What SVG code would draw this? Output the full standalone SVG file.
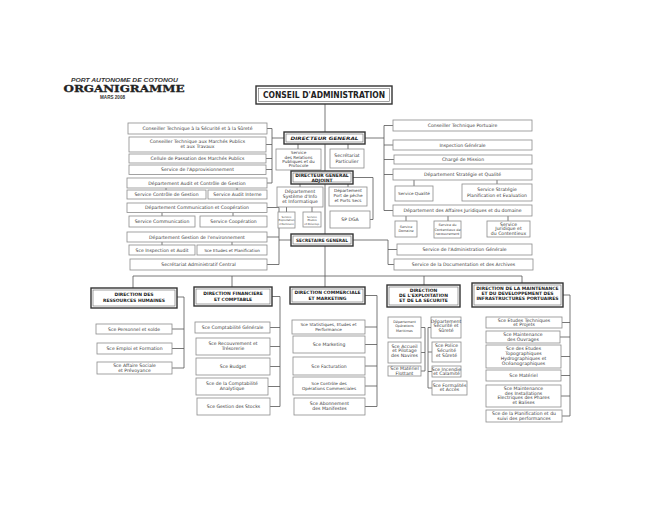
<svg xmlns="http://www.w3.org/2000/svg" width="662" height="512" viewBox="0 0 662 512">
<style>
.b{fill:#fff;stroke:#8c8c8c;stroke-width:0.8}
.o{fill:#fff;stroke:#333;stroke-width:1.4}
.i{fill:none;stroke:#666;stroke-width:0.6}
.t{font-family:"DejaVu Sans",sans-serif;font-size:4.6px;fill:#3a3a3a;text-anchor:middle}
.s{font-size:4.2px}
.x{font-size:3.4px}
.y{font-size:2.7px}
.h{font-family:"DejaVu Sans",sans-serif;font-weight:bold;font-size:4.5px;fill:#222;text-anchor:middle}
.c path{fill:none;stroke:#555;stroke-width:0.8}
</style>
<rect width="662" height="512" fill="#fff"/>
<g id="title">
<text x="124.5" y="81.8" font-family="Liberation Sans,sans-serif" font-weight="bold" font-style="italic" font-size="6" fill="#333" text-anchor="middle" textLength="107" lengthAdjust="spacingAndGlyphs">PORT AUTONOME DE COTONOU</text>
<text x="124" y="92.4" font-family="DejaVu Serif,serif" font-weight="bold" font-size="9.6" fill="#222" stroke="#222" stroke-width="0.3" text-anchor="middle" textLength="121" lengthAdjust="spacingAndGlyphs">ORGANIGRAMME</text>
<text x="112.5" y="99" font-family="Liberation Sans,sans-serif" font-weight="bold" font-size="5.4" fill="#333" text-anchor="middle" textLength="25" lengthAdjust="spacingAndGlyphs">MARS 2008</text>
</g>
<g class="c" id="connectors">
<path d="M325,104V132M325,144V171M325,184V234M325,246V287M133,276H522M133,276V288M232,276V287M424,276V285M522,276V283"/>
<path d="M284,138H272M272,128.5V183M267,128.5H272M266,144.5H272M266,158.5H272M266,169.5H272M267,183H272"/>
<path d="M365,138H384M384,125.5V210.5M384,125.5H393M384,145H393M384,159.5H394M384,174.5H393M384,210.5H393"/>
<path d="M298,144V149M348,144V149M166,188V190M237,188V190M162,212.5V216M233,212.5V216M162,242V245M232,242V245"/>
<path d="M291,240H279M279,207.5V264.5M267,207.5H279M267,237H279M267,264.5H279"/>
<path d="M353,240H388V264.5M388,249.5H397M388,264.5H394"/>
<path d="M414,180V186M497,180V184M406,216V221M448,216V221M508,216V221"/>
<path d="M300,184V187M348,184V187M353,177.5H373V219.5H370M286.5,207V212M312,207V212"/>
<path d="M177,297H184V368M172,329H184M172,348.5H184M172,368H184"/>
<path d="M272,296.5H280V406.5M270,327.5H280M270,346.5H280M270,366.5H280M268,386.5H280M270,406.5H280"/>
<path d="M365,295.5H377V406.5M365,327H377M365,344.5H377M365,366H377M365,386H377M365,406.5H377"/>
<path d="M425,327.5V371M421,327.5H425M421,352.5H425M421,371H425M428,327.5V388M428,327.5H431M428,352H432M428,371.5H432M428,388H432"/>
<path d="M563,295H570V416M562,322.5H570M560,337H570M561,356.5H570M561,375.5H570M561,396H570M562,416H570"/>
</g>
<g id="ca"><rect class="o" x="256" y="86" width="136" height="18"/><rect class="i" x="258.5" y="88.5" width="131" height="13"/><text x="324" y="98" font-family="DejaVu Sans,sans-serif" font-weight="bold" font-size="8" fill="#222" text-anchor="middle" textLength="122" lengthAdjust="spacingAndGlyphs">CONSEIL D'ADMINISTRATION</text></g>
<g id="dg"><rect class="o" x="284" y="132" width="81" height="12"/><rect class="i" x="286" y="134" width="77" height="8"/><text class="h" x="324.5" y="140.3" font-size="5.6" font-style="italic" textLength="68" lengthAdjust="spacingAndGlyphs">DIRECTEUR GENERAL</text></g>
<g id="relations"><rect class="b" x="276" y="149" width="45" height="21"/><text class="t s" x="298.5" y="154.2">Service<tspan x="298.5" dy="4.4">des Relations</tspan><tspan x="298.5" dy="4.4">Publiques et du</tspan><tspan x="298.5" dy="4.4">Protocole</tspan></text></g>
<g id="secretariat"><rect class="b" x="330" y="149" width="34" height="19"/><text class="t" x="347" y="157">Secrétariat<tspan x="347" dy="5.5">Particulier</tspan></text></g>
<g id="dga"><rect class="o" x="291" y="171" width="62" height="13"/><rect class="i" x="293" y="173" width="58" height="9"/><text class="h" x="322" y="177.2" font-size="4.2">DIRECTEUR GENERAL<tspan x="322" dy="4.8">ADJOINT</tspan></text></g>
<g id="dept-si"><rect class="b" x="277" y="187" width="46" height="20"/><text class="t" x="300" y="192.6">Département<tspan x="300" dy="5">Système d'Info</tspan><tspan x="300" dy="5">et Informatique</tspan></text></g>
<g id="dept-port"><rect class="b" x="329" y="187" width="38" height="19"/><text class="t s" x="348" y="192.4">Département<tspan x="348" dy="5">Port de pêche</tspan><tspan x="348" dy="5">et Ports Secs</tspan></text></g>
<g id="svc-exp"><rect class="b" x="278" y="212" width="17" height="16"/><text class="t y" x="286.5" y="217.5">Service<tspan x="286.5" dy="3.5">Exploitation</tspan><tspan x="286.5" dy="3.5" textLength="15" lengthAdjust="spacingAndGlyphs">et Maintenance</tspan></text></g>
<g id="svc-etu"><rect class="b" x="303" y="212" width="18" height="15" /><text class="t y" x="312" y="217.5">Service<tspan x="312" dy="3.5">Etudes</tspan><tspan x="312" dy="3.5">et Dévelop.</tspan></text></g>
<g id="sp-dga"><rect class="b" x="330" y="211" width="40" height="17"/><text class="t" x="350" y="221.2" font-size="5">SP DGA</text></g>
<g id="sg"><rect class="o" x="291" y="234" width="62" height="12"/><rect class="i" x="293" y="236" width="58" height="8"/><text class="h" x="322" y="241.6" font-size="4.5" textLength="52" lengthAdjust="spacingAndGlyphs">SECRETAIRE GENERAL</text></g>
<g id="l1"><rect class="b" x="128" y="123" width="139" height="11"/><text class="t" x="197.5" y="130.1">Conseiller Technique à la Sécurité et à la Sûreté</text></g>
<g id="l2"><rect class="b" x="129" y="137" width="137" height="15"/><text class="t" x="197.5" y="143.2">Conseiller Technique aux Marchés Publics<tspan x="197.5" dy="5.2">et aux Travaux</tspan></text></g>
<g id="l3"><rect class="b" x="129" y="154" width="137" height="9"/><text class="t" x="197.5" y="160.1">Cellule de Passation des Marchés Publics</text></g>
<g id="l4"><rect class="b" x="129" y="165" width="137" height="9.5"/><text class="t" x="197.5" y="171.3">Service de l'Approvisionnement</text></g>
<g id="l5"><rect class="b" x="127" y="178" width="140" height="10"/><text class="t" x="197" y="184.6">Département Audit et Contrôle de Gestion</text></g>
<g id="l6a"><rect class="b" x="127" y="190" width="79" height="9"/><text class="t" x="166.5" y="196.1">Service Contrôle de Gestion</text></g>
<g id="l6b"><rect class="b" x="208" y="190" width="59" height="9"/><text class="t" x="237.5" y="196.1">Service Audit Interne</text></g>
<g id="l7"><rect class="b" x="127" y="203" width="140" height="9.5"/><text class="t" x="197" y="209.3">Département Communication et Coopération</text></g>
<g id="l8a"><rect class="b" x="129" y="216" width="66" height="11"/><text class="t" x="162" y="223.1">Service Communication</text></g>
<g id="l8b"><rect class="b" x="200" y="216" width="67" height="11"/><text class="t" x="233.5" y="223.1">Service Coopération</text></g>
<g id="l9"><rect class="b" x="127" y="232" width="140" height="10"/><text class="t" x="197" y="238.6">Département Gestion de l'environnement</text></g>
<g id="l10a"><rect class="b" x="129" y="245" width="66" height="10"/><text class="t" x="162" y="251.6">Sce Inspection et Audit</text></g>
<g id="l10b"><rect class="b" x="197" y="245" width="70" height="10"/><text class="t s" x="232" y="251.5">Sce Etudes et Planification</text></g>
<g id="l11"><rect class="b" x="130" y="259" width="137" height="11"/><text class="t" x="198.5" y="266.1">Secrétariat Administratif Central</text></g>
<g id="r1"><rect class="b" x="393" y="120" width="139" height="11"/><text class="t" x="462.5" y="127.1">Conseiller Technique Portuaire</text></g>
<g id="r2"><rect class="b" x="393" y="140" width="139" height="10"/><text class="t" x="462.5" y="146.6">Inspection Générale</text></g>
<g id="r3"><rect class="b" x="394" y="155" width="138" height="9"/><text class="t" x="463" y="161.1">Chargé de Mission</text></g>
<g id="r4"><rect class="b" x="393" y="169" width="139" height="11"/><text class="t" x="462.5" y="176.1">Département Stratégie et Qualité</text></g>
<g id="r5a"><rect class="b" x="395" y="186" width="38" height="15"/><text class="t s" x="414" y="195">Service Qualité</text></g>
<g id="r5b"><rect class="b" x="462" y="184" width="70" height="17"/><text class="t" x="497" y="191.2">Service Stratégie<tspan x="497" dy="5.6">Planification et Evaluation</tspan></text></g>
<g id="r6"><rect class="b" x="393" y="205" width="139" height="11"/><text class="t" x="462.5" y="212.1">Département des Affaires Juridiques et du domaine</text></g>
<g id="r7a"><rect class="b" x="395" y="221" width="22" height="16"/><text class="t x" x="406" y="227.8">Service<tspan x="406" dy="4.6">Domaine</tspan></text></g>
<g id="r7b"><rect class="b" x="434" y="221" width="27" height="17"/><text class="t x" x="447.5" y="226.2">Service du<tspan x="447.5" dy="4.4">Contentieux de</tspan><tspan x="447.5" dy="4.4">recouvrement</tspan></text></g>
<g id="r7c"><rect class="b" x="487" y="221" width="43" height="16"/><text class="t" x="508.5" y="226" font-size="3.9">Service<tspan x="508.5" dy="4.4">Juridique et</tspan><tspan x="508.5" dy="4.4">du Contentieux</tspan></text></g>
<g id="r8"><rect class="b" x="397" y="244" width="135" height="11"/><text class="t" x="464.5" y="251.1">Service de l'Administration Générale</text></g>
<g id="r9"><rect class="b" x="394" y="259" width="139" height="11"/><text class="t" x="463.5" y="266.1">Service de la Documentation et des Archives</text></g>
<g id="drh"><rect class="o" x="91" y="288" width="86" height="20"/><rect class="i" x="93" y="290" width="82" height="16"/><text class="h" x="134" y="296">DIRECTION DES<tspan x="134" dy="5.8">RESSOURCES HUMAINES</tspan></text></g>
<g id="dfc"><rect class="o" x="194" y="287" width="78" height="19"/><rect class="i" x="196" y="289" width="74" height="15"/><text class="h" x="233" y="295" font-size="4.3">DIRECTION FINANCIERE<tspan x="233" dy="5.6">ET COMPTABLE</tspan></text></g>
<g id="dcm"><rect class="o" x="290" y="287" width="75" height="17"/><rect class="i" x="292" y="289" width="71" height="13"/><text class="h" x="327.5" y="294.3" font-size="4.3">DIRECTION COMMERCIALE<tspan x="327.5" dy="5.4">ET MARKETING</tspan></text></g>
<g id="dese"><rect class="o" x="387" y="285" width="73" height="22"/><rect class="i" x="389" y="287" width="69" height="18"/><text class="h" x="423.5" y="291.5" font-size="4.2">DIRECTION<tspan x="423.5" dy="5">DE L'EXPLOITATION</tspan><tspan x="423.5" dy="5">ET DE LA SECURITE</tspan></text></g>
<g id="dmdip"><rect class="o" x="472" y="283" width="91" height="24"/><rect class="i" x="474" y="285" width="87" height="20"/><text class="h" x="517.5" y="290" font-size="3.9">DIRECTION DE LA MAINTENANCE<tspan x="517.5" dy="4.9">ET DU DEVELOPPEMENT DES</tspan><tspan x="517.5" dy="4.9">INFRASTRUCTURES PORTUAIRES</tspan></text></g>
<g id="drh1"><rect class="b" x="96" y="324" width="76" height="10"/><text class="t" x="134" y="330.6">Sce Personnel et solde</text></g>
<g id="drh2"><rect class="b" x="97" y="343" width="75" height="11"/><text class="t" x="134.5" y="350.1">Sce Emploi et Formation</text></g>
<g id="drh3"><rect class="b" x="97" y="362" width="75" height="12"/><text class="t" x="134.5" y="367.4">Sce Affaire Sociale<tspan x="134.5" dy="4.6">et Prévoyance</tspan></text></g>
<g id="dfc1"><rect class="b" x="195" y="322" width="75" height="11"/><text class="t" x="232.5" y="329.1">Sce Comptabilité Générale</text></g>
<g id="dfc2"><rect class="b" x="196" y="338" width="74" height="17"/><text class="t" x="233" y="344.8">Sce Recouvrement et<tspan x="233" dy="5.2">Trésorerie</tspan></text></g>
<g id="dfc3"><rect class="b" x="196" y="358" width="74" height="17"/><text class="t" x="233" y="368.1">Sce Budget</text></g>
<g id="dfc4"><rect class="b" x="196" y="378" width="72" height="17"/><text class="t" x="232" y="384.8">Sce de la Comptabilité<tspan x="232" dy="5.2">Analytique</tspan></text></g>
<g id="dfc5"><rect class="b" x="197" y="398" width="73" height="17"/><text class="t" x="233.5" y="408.1">Sce Gestion des Stocks</text></g>
<g id="dcm1"><rect class="b" x="292" y="320" width="73" height="14"/><text class="t s" x="328.5" y="325.8">Sce Statistiques, Etudes et<tspan x="328.5" dy="4.8">Performance</tspan></text></g>
<g id="dcm2"><rect class="b" x="293" y="336" width="72" height="17"/><text class="t" x="329" y="346.1">Sce Marketing</text></g>
<g id="dcm3"><rect class="b" x="293" y="357" width="72" height="18"/><text class="t" x="329" y="367.6">Sce Facturation</text></g>
<g id="dcm4"><rect class="b" x="293" y="377" width="72" height="18"/><text class="t s" x="329" y="384.6">Sce Contrôle des<tspan x="329" dy="5">Opérations Commerciales</tspan></text></g>
<g id="dcm5"><rect class="b" x="294" y="398" width="71" height="17"/><text class="t" x="329.5" y="404.8">Sce Abonnement<tspan x="329.5" dy="5.2">des Manifestes</tspan></text></g>
<g id="dese1"><rect class="b" x="388" y="317" width="33" height="21"/><text class="t x" x="404.5" y="322.6" font-size="3.9">Département<tspan x="404.5" dy="4.8">Opérations</tspan><tspan x="404.5" dy="4.8">Maritimes</tspan></text></g>
<g id="dese2"><rect class="b" x="388" y="342" width="33" height="21"/><text class="t" x="404.5" y="347.6" font-size="3.9">Sce Accueil<tspan x="404.5" dy="4.8">et Pilotage</tspan><tspan x="404.5" dy="4.8">des Navires</tspan></text></g>
<g id="dese3"><rect class="b" x="388" y="366" width="33" height="10"/><text class="t" x="404.5" y="370.3" font-size="3.9">Sce Matériel<tspan x="404.5" dy="4.2">Flottant</tspan></text></g>
<g id="dese4"><rect class="b" x="431" y="317" width="30" height="21"/><text class="t" x="446" y="322.6" font-size="3.9">Département<tspan x="446" dy="4.8">Sécurité et</tspan><tspan x="446" dy="4.8">Sûreté</tspan></text></g>
<g id="dese5"><rect class="b" x="432" y="342" width="29" height="20"/><text class="t" x="446.5" y="347.3" font-size="3.9">Sce Police<tspan x="446.5" dy="4.6">Sécurité</tspan><tspan x="446.5" dy="4.6">et Sûreté</tspan></text></g>
<g id="dese6"><rect class="b" x="432" y="366" width="29" height="11"/><text class="t" x="446.5" y="370.7" font-size="3.9">Sce Incendie<tspan x="446.5" dy="4.4">et Calamité</tspan></text></g>
<g id="dese7"><rect class="b" x="432" y="381" width="35" height="14"/><text class="t" x="449.5" y="386.8" font-size="3.9">Sce Formalités<tspan x="449.5" dy="4.6">et Accès</tspan></text></g>
<g id="dm1"><rect class="b" x="486" y="317" width="76" height="11"/><text class="t" x="524" y="321.6" font-size="4.3">Sce Etudes Techniques<tspan x="524" dy="4.6">et Projets</tspan></text></g>
<g id="dm2"><rect class="b" x="486" y="331" width="74" height="12"/><text class="t" x="523" y="335.9" font-size="4.3">Sce Maintenance<tspan x="523" dy="4.6">des Ouvrages</tspan></text></g>
<g id="dm3"><rect class="b" x="486" y="345" width="75" height="23"/><text class="t" x="523.5" y="350.2" font-size="4.2">Sce des Etudes<tspan x="523.5" dy="4.8">Topographiques</tspan><tspan x="523.5" dy="4.8">Hydrographiques et</tspan><tspan x="523.5" dy="4.8">Océanographiques</tspan></text></g>
<g id="dm4"><rect class="b" x="486" y="370" width="75" height="11"/><text class="t" x="523.5" y="377.1">Sce Matériel</text></g>
<g id="dm5"><rect class="b" x="486" y="385" width="75" height="22"/><text class="t" x="523.5" y="390" font-size="4.2">Sce Maintenance<tspan x="523.5" dy="4.6">des Installations</tspan><tspan x="523.5" dy="4.6">Electriques des Phares</tspan><tspan x="523.5" dy="4.6">et Balises</tspan></text></g>
<g id="dm6"><rect class="b" x="486" y="410" width="76" height="12"/><text class="t" x="524" y="414.9" font-size="4.2">Sce de la Planification et du<tspan x="524" dy="4.6">suivi des performances</tspan></text></g>
</svg>
